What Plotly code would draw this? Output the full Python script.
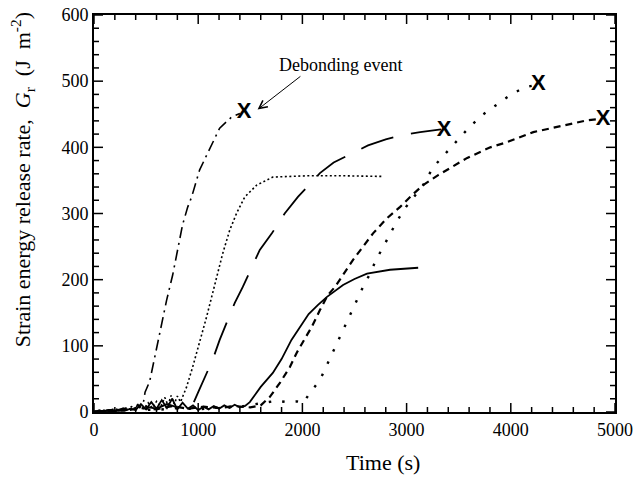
import plotly.graph_objects as go

# ---- data (time in s, G_r in J m^-2) ----
# dash-dot curve (early debond)
t1 = [0, 40, 80, 120, 160, 200, 240, 280, 320, 360, 400, 420, 440, 460, 475, 490, 534, 582, 649, 697, 755, 803, 850, 900, 937, 1014, 1091, 1206, 1322, 1400]
g1 = [0, 2, 1, 3, 2, 5, 3, 6, 4, 8, 5, 12, 6, 14, 15, 30, 46, 83, 131, 169, 207, 247, 283, 310, 325, 366, 391, 429, 446, 451]
# fine dotted curve
t2 = [0, 60, 120, 180, 240, 300, 360, 420, 480, 520, 560, 600, 640, 680, 710, 740, 770, 800, 830, 851, 889, 947, 1014, 1081, 1139, 1236, 1303, 1370, 1447, 1562, 1716, 2043, 2400, 2780]
g2 = [1, 3, 2, 4, 3, 6, 4, 8, 5, 14, 6, 16, 8, 22, 10, 25, 12, 24, 15, 23, 38, 68, 104, 144, 180, 240, 275, 301, 325, 343, 355, 357, 357, 356]
# long-dash curve
t3 = [0, 100, 200, 300, 400, 500, 600, 700, 800, 880, 950, 997, 1139, 1206, 1351, 1428, 1591, 1707, 1830, 1957, 2070, 2168, 2300, 2438, 2630, 2800, 2938, 3130, 3330]
g3 = [0, 2, 1, 4, 3, 8, 5, 12, 7, 10, 12, 29, 79, 109, 165, 189, 245, 270, 300, 325, 345, 361, 377, 388, 403, 412, 418, 423, 427]
# solid curve
t4 = [0, 50, 100, 150, 200, 250, 300, 350, 400, 450, 500, 550, 600, 650, 700, 750, 800, 850, 900, 950, 1000, 1050, 1100, 1150, 1200, 1250, 1300, 1350, 1400, 1450, 1495, 1600, 1716, 1800, 1895, 1980, 2060, 2150, 2236, 2390, 2500, 2620, 2841, 3111]
g4 = [0, 2, 1, 3, 2, 4, 2, 5, 3, 12, 4, 15, 5, 18, 6, 20, 4, 14, 5, 10, 3, 8, 4, 9, 5, 10, 6, 11, 7, 9, 15, 38, 59, 80, 109, 130, 148, 162, 174, 192, 201, 209, 215, 218]
# short-dash curve
t5 = [0, 150, 300, 450, 600, 750, 900, 1050, 1200, 1350, 1500, 1600, 1688, 1784, 1880, 1947, 2024, 2091, 2168, 2245, 2313, 2409, 2486, 2582, 2678, 2813, 2938, 3053, 3159, 3303, 3438, 3582, 3803, 3967, 4216, 4476, 4736, 4870]
g5 = [0, 3, 2, 6, 4, 9, 5, 8, 6, 9, 7, 10, 23, 44, 68, 90, 111, 129, 154, 177, 189, 212, 230, 250, 270, 293, 310, 328, 343, 358, 371, 384, 400, 408, 423, 432, 441, 443]
# sparse dotted curve
t6 = [0, 200, 400, 600, 800, 1000, 1200, 1400, 1550, 1650, 1750, 1850, 1950, 2010, 2072, 2168, 2226, 2284, 2351, 2409, 2467, 2524, 2582, 2649, 2707, 2774, 2841, 2909, 2995, 3159, 3255, 3389, 3486, 3611, 3736, 3870, 3986, 4120, 4230]
g6 = [0, 2, 4, 3, 6, 4, 7, 8, 12, 15, 17, 15, 16, 14, 29, 48, 68, 88, 109, 129, 150, 169, 189, 209, 230, 249, 270, 289, 310, 343, 370, 393, 411, 432, 450, 465, 478, 490, 494]

# debonding events (X marks)
x_events = [1440, 3360, 4265, 4885]
g_events = [452, 426, 495, 442]

x_ticks = [0, 1000, 2000, 3000, 4000, 5000]
y_ticks = [0, 100, 200, 300, 400, 500, 600]
x_minor_step = 200
y_minor_step = 20

W, H = 637, 478
ML, MR, MT, MB = 94, 22, 15, 66
plot_w, plot_h = W - ML - MR, H - MT - MB
x_lo, x_hi = x_ticks[0], x_ticks[-1]
y_lo, y_hi = y_ticks[0], y_ticks[-1]

fig = go.Figure()
styles = [
    (t1, g1, "11px,5px,2px,5px", 1.6),
    (t2, g2, "2px,2.5px", 1.6),
    (t3, g3, "34px,18px", 1.8),
    (t4, g4, "solid", 1.8),
    (t5, g5, "7px,5px", 2.2),
    (t6, g6, "2.5px,11px", 2.4),
]
for t, g, dash, w in styles:
    fig.add_trace(go.Scatter(x=t, y=g, mode="lines",
                             line=dict(color="black", width=w, dash=dash),
                             showlegend=False, hoverinfo="skip"))

# inward ticks on all four sides (major & minor), built from the tick values
tx, ty = [], []
dy_unit = (y_hi - y_lo) / plot_h   # data units per pixel (vertical)
dx_unit = (x_hi - x_lo) / plot_w   # data units per pixel (horizontal)
for v in range(x_lo, x_hi + 1, x_minor_step):
    ln = 9 if v in x_ticks else 5
    tx += [v, v, None, v, v, None]
    ty += [y_lo, y_lo + ln * dy_unit, None, y_hi, y_hi - ln * dy_unit, None]
for v in range(y_lo, y_hi + 1, y_minor_step):
    ln = 9 if v in y_ticks else 5
    tx += [x_lo, x_lo + ln * dx_unit, None, x_hi, x_hi - ln * dx_unit, None]
    ty += [v, v, None, v, v, None]
fig.add_trace(go.Scatter(x=tx, y=ty, mode="lines", line=dict(color="black", width=1.5),
                         showlegend=False, hoverinfo="skip", connectgaps=False))

fig.add_trace(go.Scatter(x=x_events, y=g_events, mode="text", text=["X"] * len(x_events),
                         textposition="middle center",
                         textfont=dict(family="Liberation Sans", size=22, color="black", weight="bold"),
                         showlegend=False, hoverinfo="skip"))

serif = "Liberation Serif, Times New Roman, serif"
fig.add_annotation(x=2370, y=524, xref="x", yref="y", text="Debonding event", showarrow=False,
                   font=dict(family=serif, size=18, color="black"))
fig.add_annotation(x=1570, y=457, ax=1995, ay=509, xref="x", yref="y", axref="x", ayref="y",
                   text="", showarrow=True, arrowhead=5, arrowsize=1.6, arrowwidth=1, arrowcolor="black")

# axis titles
fig.add_annotation(x=0.555, y=-0.128, xref="paper", yref="paper", xanchor="center", yanchor="middle",
                   text="Time (s)", showarrow=False,
                   font=dict(family=serif, size=22, color="black"))
fig.add_annotation(x=-0.138, y=0.584, xref="paper", yref="paper", xanchor="center", yanchor="middle",
                   textangle=-90,
                   text="Strain energy release rate,\u00a0\u00a0<i>G</i><sub>r</sub>\u00a0\u00a0(J\u00a0\u00a0m<sup>-2</sup>)",
                   showarrow=False, font=dict(family=serif, size=22, color="black"))

axis_common = dict(showline=True, linecolor="black", linewidth=2, mirror=True,
                   ticks="", showgrid=False, zeroline=False, automargin=False,
                   tickfont=dict(family=serif, size=18, color="black"))
fig.update_xaxes(range=[x_lo, x_hi], tickmode="array", tickvals=x_ticks, ticktext=[str(v) for v in x_ticks],
                 **axis_common)
fig.update_yaxes(range=[y_lo, y_hi], tickmode="array", tickvals=y_ticks, ticktext=[str(v) for v in y_ticks],
                 **axis_common)

fig.update_layout(template="none", width=W, height=H,
                  margin=dict(l=ML, r=MR, t=MT, b=MB),
                  plot_bgcolor="white", paper_bgcolor="white")

fig.write_html("out.html", config={"displayModeBar": False},
               post_script="document.body.style.margin='0px';")
